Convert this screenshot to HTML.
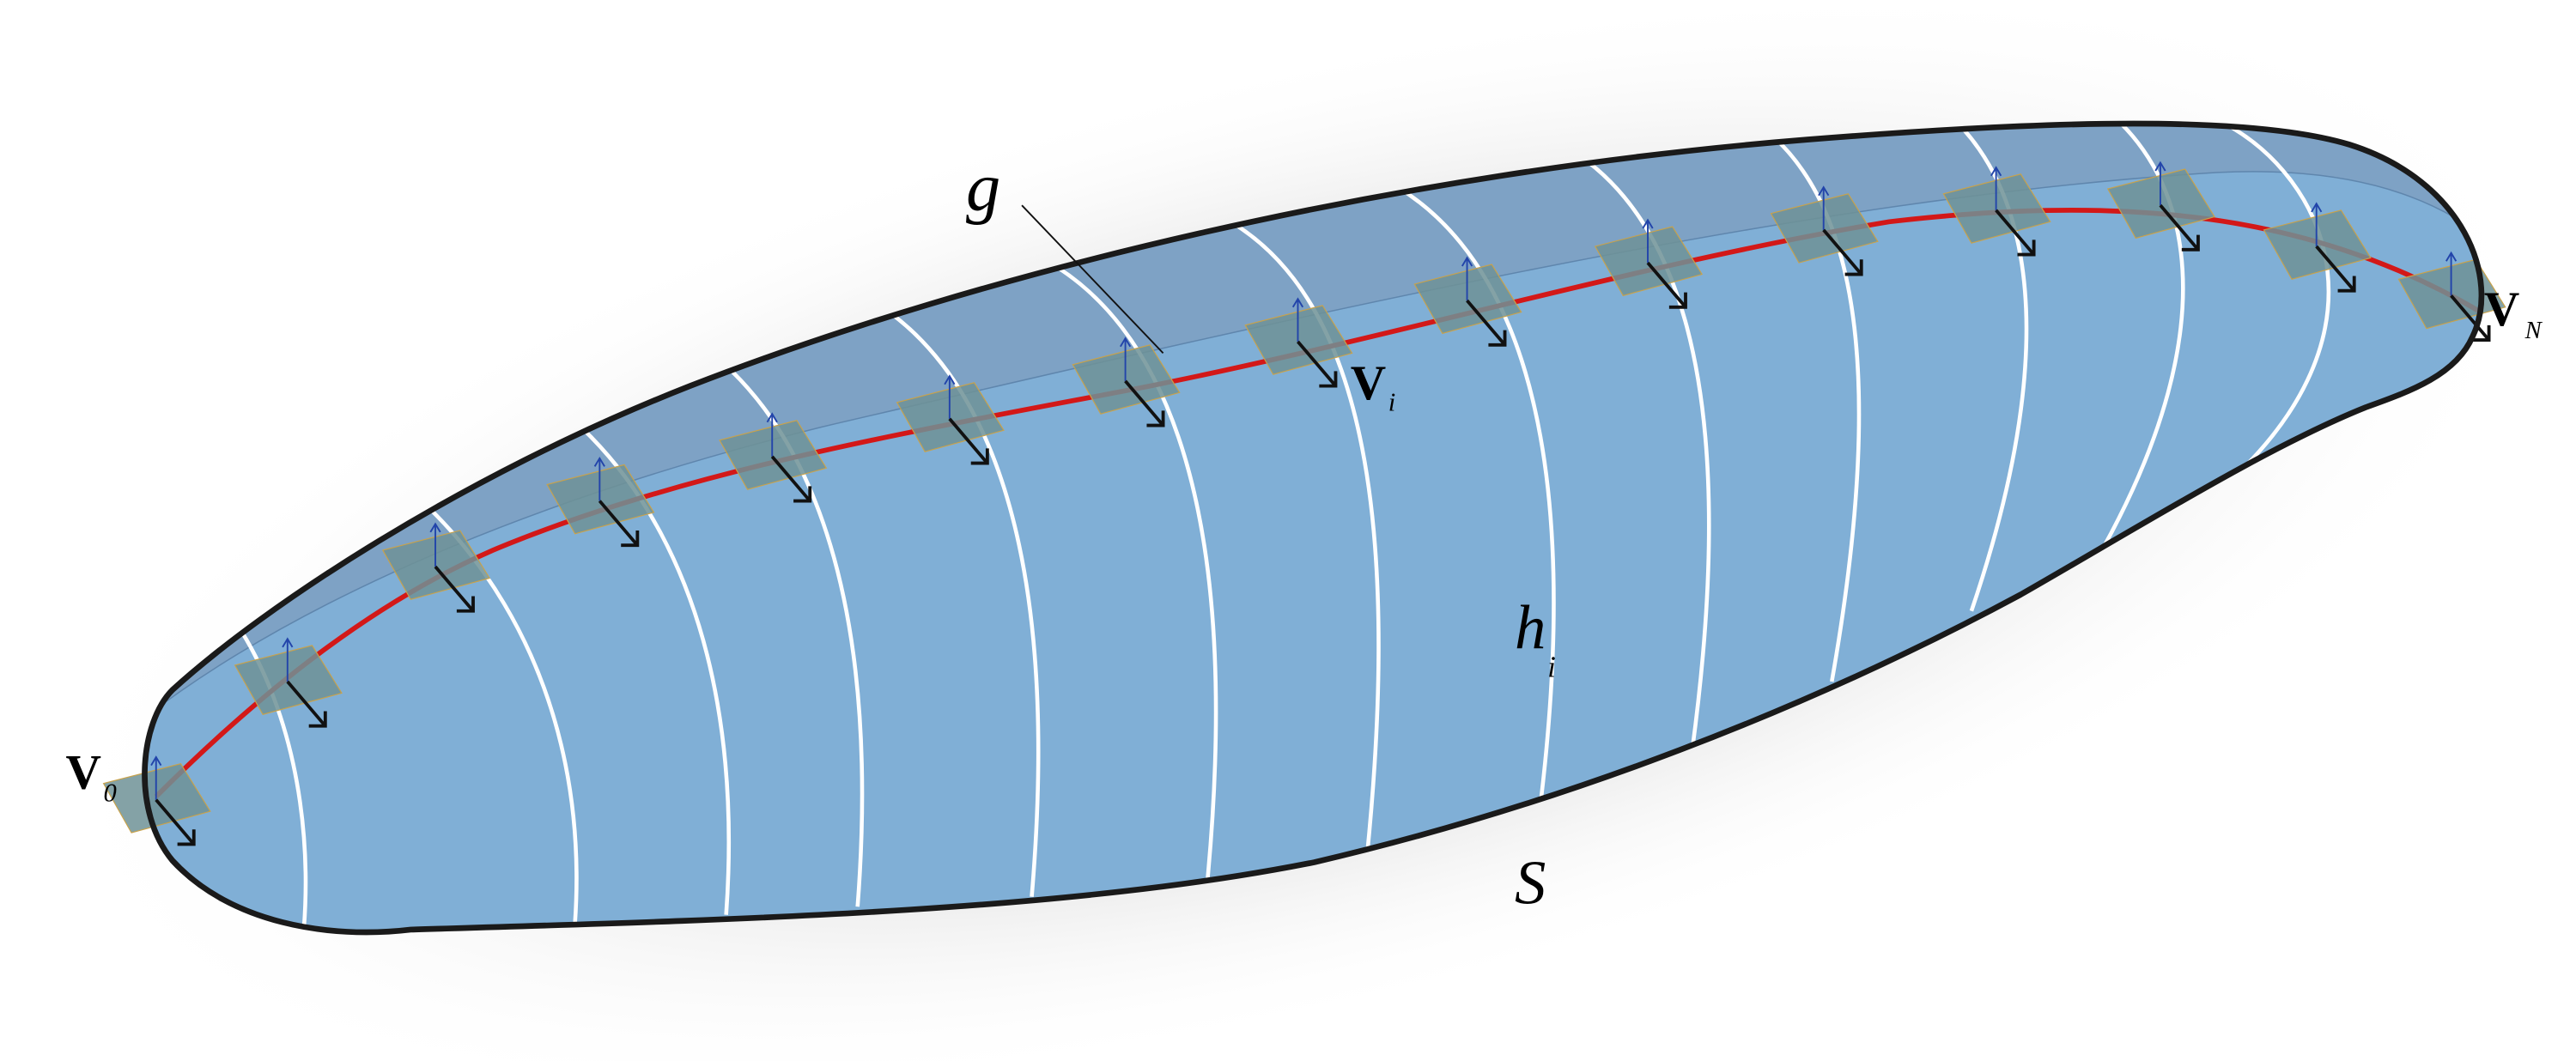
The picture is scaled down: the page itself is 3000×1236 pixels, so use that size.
<!DOCTYPE html>
<html><head><meta charset="utf-8"><style>
html,body{margin:0;padding:0;background:#fff;width:3000px;height:1236px;overflow:hidden}
svg{display:block;position:absolute;left:0;top:0}
text{font-family:"Liberation Serif",serif}
</style></head><body>
<svg id="fig" width="3000" height="1236" viewBox="0 0 1568 646" xmlns="http://www.w3.org/2000/svg">
<defs>
<radialGradient id="sh" cx="0.5" cy="0.5" r="0.5">
<stop offset="0.55" stop-color="#e4e4e4"/><stop offset="1" stop-color="#ffffff" stop-opacity="0"/>
</radialGradient>
<clipPath id="clip"><path d="M105,420 C160,370 280,290 420,235 C600,165 850,105 1100,85 C1250,73 1370,70 1430,88 C1500,110 1522,170 1505,205 C1495,228 1468,238 1440,248 C1380,272 1300,322 1230,362 C1100,432 950,490 800,525 C650,555 450,560 250,566 C200,572 140,562 105,524 C80,494 85,440 105,420 Z"/></clipPath>
</defs>
<rect x="0" y="0" width="1568" height="646" fill="#fff"/>
<ellipse cx="790" cy="330" rx="780" ry="290" fill="url(#sh)" transform="rotate(-14 790 330)"/>
<g>
<path d="M105,420 C160,370 280,290 420,235 C600,165 850,105 1100,85 C1250,73 1370,70 1430,88 C1500,110 1522,170 1505,205 C1495,228 1468,238 1440,248 C1380,272 1300,322 1230,362 C1100,432 950,490 800,525 C650,555 450,560 250,566 C200,572 140,562 105,524 C80,494 85,440 105,420 Z" fill="#80afd6"/>
<g clip-path="url(#clip)">
<path d="M60,460 C150,380 300,310 500,260 C800,190 1100,120 1350,105 C1450,100 1500,130 1530,160 L1530,0 L60,0 Z" fill="#7ea2c5"/>
<path d="M60,460 C150,380 300,310 500,260 C800,190 1100,120 1350,105 C1450,100 1500,130 1530,160" fill="none" stroke="#5f86ad" stroke-width="0.8"/>
<g id="hcurves"></g>
</g>
</g>
<path id="gcurve" d="M95,485 C150,430 220,370 300,335 C420,285 560,262 700,235 C850,205 1000,160 1150,135 C1280,120 1400,125 1510,190" fill="none" stroke="#d31818" stroke-width="3"/>
<g id="frames"></g>
<path d="M105,420 C160,370 280,290 420,235 C600,165 850,105 1100,85 C1250,73 1370,70 1430,88 C1500,110 1522,170 1505,205 C1495,228 1468,238 1440,248 C1380,272 1300,322 1230,362 C1100,432 950,490 800,525 C650,555 450,560 250,566 C200,572 140,562 105,524 C80,494 85,440 105,420 Z" fill="none" stroke="#1a1a1a" stroke-width="3.5"/>
<line x1="622" y1="125" x2="708" y2="215" stroke="#111" stroke-width="1"/>
<text x="588" y="128" font-size="42" font-style="italic">g</text>
<text x="822" y="243" font-size="30" font-weight="bold">V</text>
<text x="845" y="250" font-size="16" font-style="italic">i</text>
<text x="922" y="395" font-size="38" font-style="italic">h</text>
<text x="942" y="412" font-size="18" font-style="italic">i</text>
<text x="922" y="550" font-size="38" font-style="italic">S</text>
<text x="40" y="480" font-size="30" font-weight="bold">V</text>
<text x="63" y="488" font-size="16" font-style="italic">0</text>
<text x="1512" y="198" font-size="30" font-weight="bold">V</text>
<text x="1537" y="206" font-size="15" font-style="italic">N</text>
</svg>
<script>
const NS="http://www.w3.org/2000/svg";
const hStarts=[[150,400],[268,342],[372,302],[470,272],[585,252],[695,230],[805,205],[905,183],[1010,160],[1118,140],[1225,127],[1325,128],[1415,148]];
const hEnds=[[185,565],[350,562],[442,557],[522,552],[628,546],[735,536],[832,522],[938,487],[1030,457],[1115,415],[1200,372],[1272,348],[1347,302]];
const framePts=[[95,487],[175,415],[265,345],[365,305],[470,278],[578,255],[685,232],[790,208],[893,183],[1003,160],[1110,140],[1215,128],[1315,125],[1410,150],[1492,180]];
const hg=document.getElementById('hcurves');
hStarts.forEach((s,i)=>{const e=hEnds[i];
 const p=document.createElementNS(NS,'path');
 
 
 const T=[s[0]-65,s[1]-75];
 const right=Math.max(s[0],e[0]);
 const bulge=8+i*3;
 p.setAttribute('d',`M${T[0]},${T[1]} C${s[0]+5},${s[1]-40} ${right+bulge},${s[1]+60} ${e[0]},${e[1]}`);
 p.setAttribute('fill','none');p.setAttribute('stroke','#fff');p.setAttribute('stroke-width','2.4');
 hg.appendChild(p);});
const fg=document.getElementById('frames');
framePts.forEach(pt=>{const [x,y]=pt;
 const g=document.createElementNS(NS,'g');
 
 
 g.innerHTML=`<polygon points="${x-32},${y-10} ${x+15},${y-22} ${x+33},${y+7} ${x-15},${y+20}" fill="#6f9296" fill-opacity="0.85" stroke="#c9a24a" stroke-width="0.6"/>
<line x1="${x}" y1="${y}" x2="${x}" y2="${y-25}" stroke="#2244aa" stroke-width="1"/>
<path d="M${x-3},${y-21} L${x},${y-26} L${x+3},${y-21}" fill="none" stroke="#2244aa" stroke-width="1"/>
<line x1="${x}" y1="${y}" x2="${x+23}" y2="${y+27}" stroke="#111" stroke-width="2"/>
<path d="M${x+23},${y+18} L${x+23},${y+27} L${x+13},${y+27}" fill="none" stroke="#111" stroke-width="2"/>`;
 fg.appendChild(g);});
</script>
</body></html>
